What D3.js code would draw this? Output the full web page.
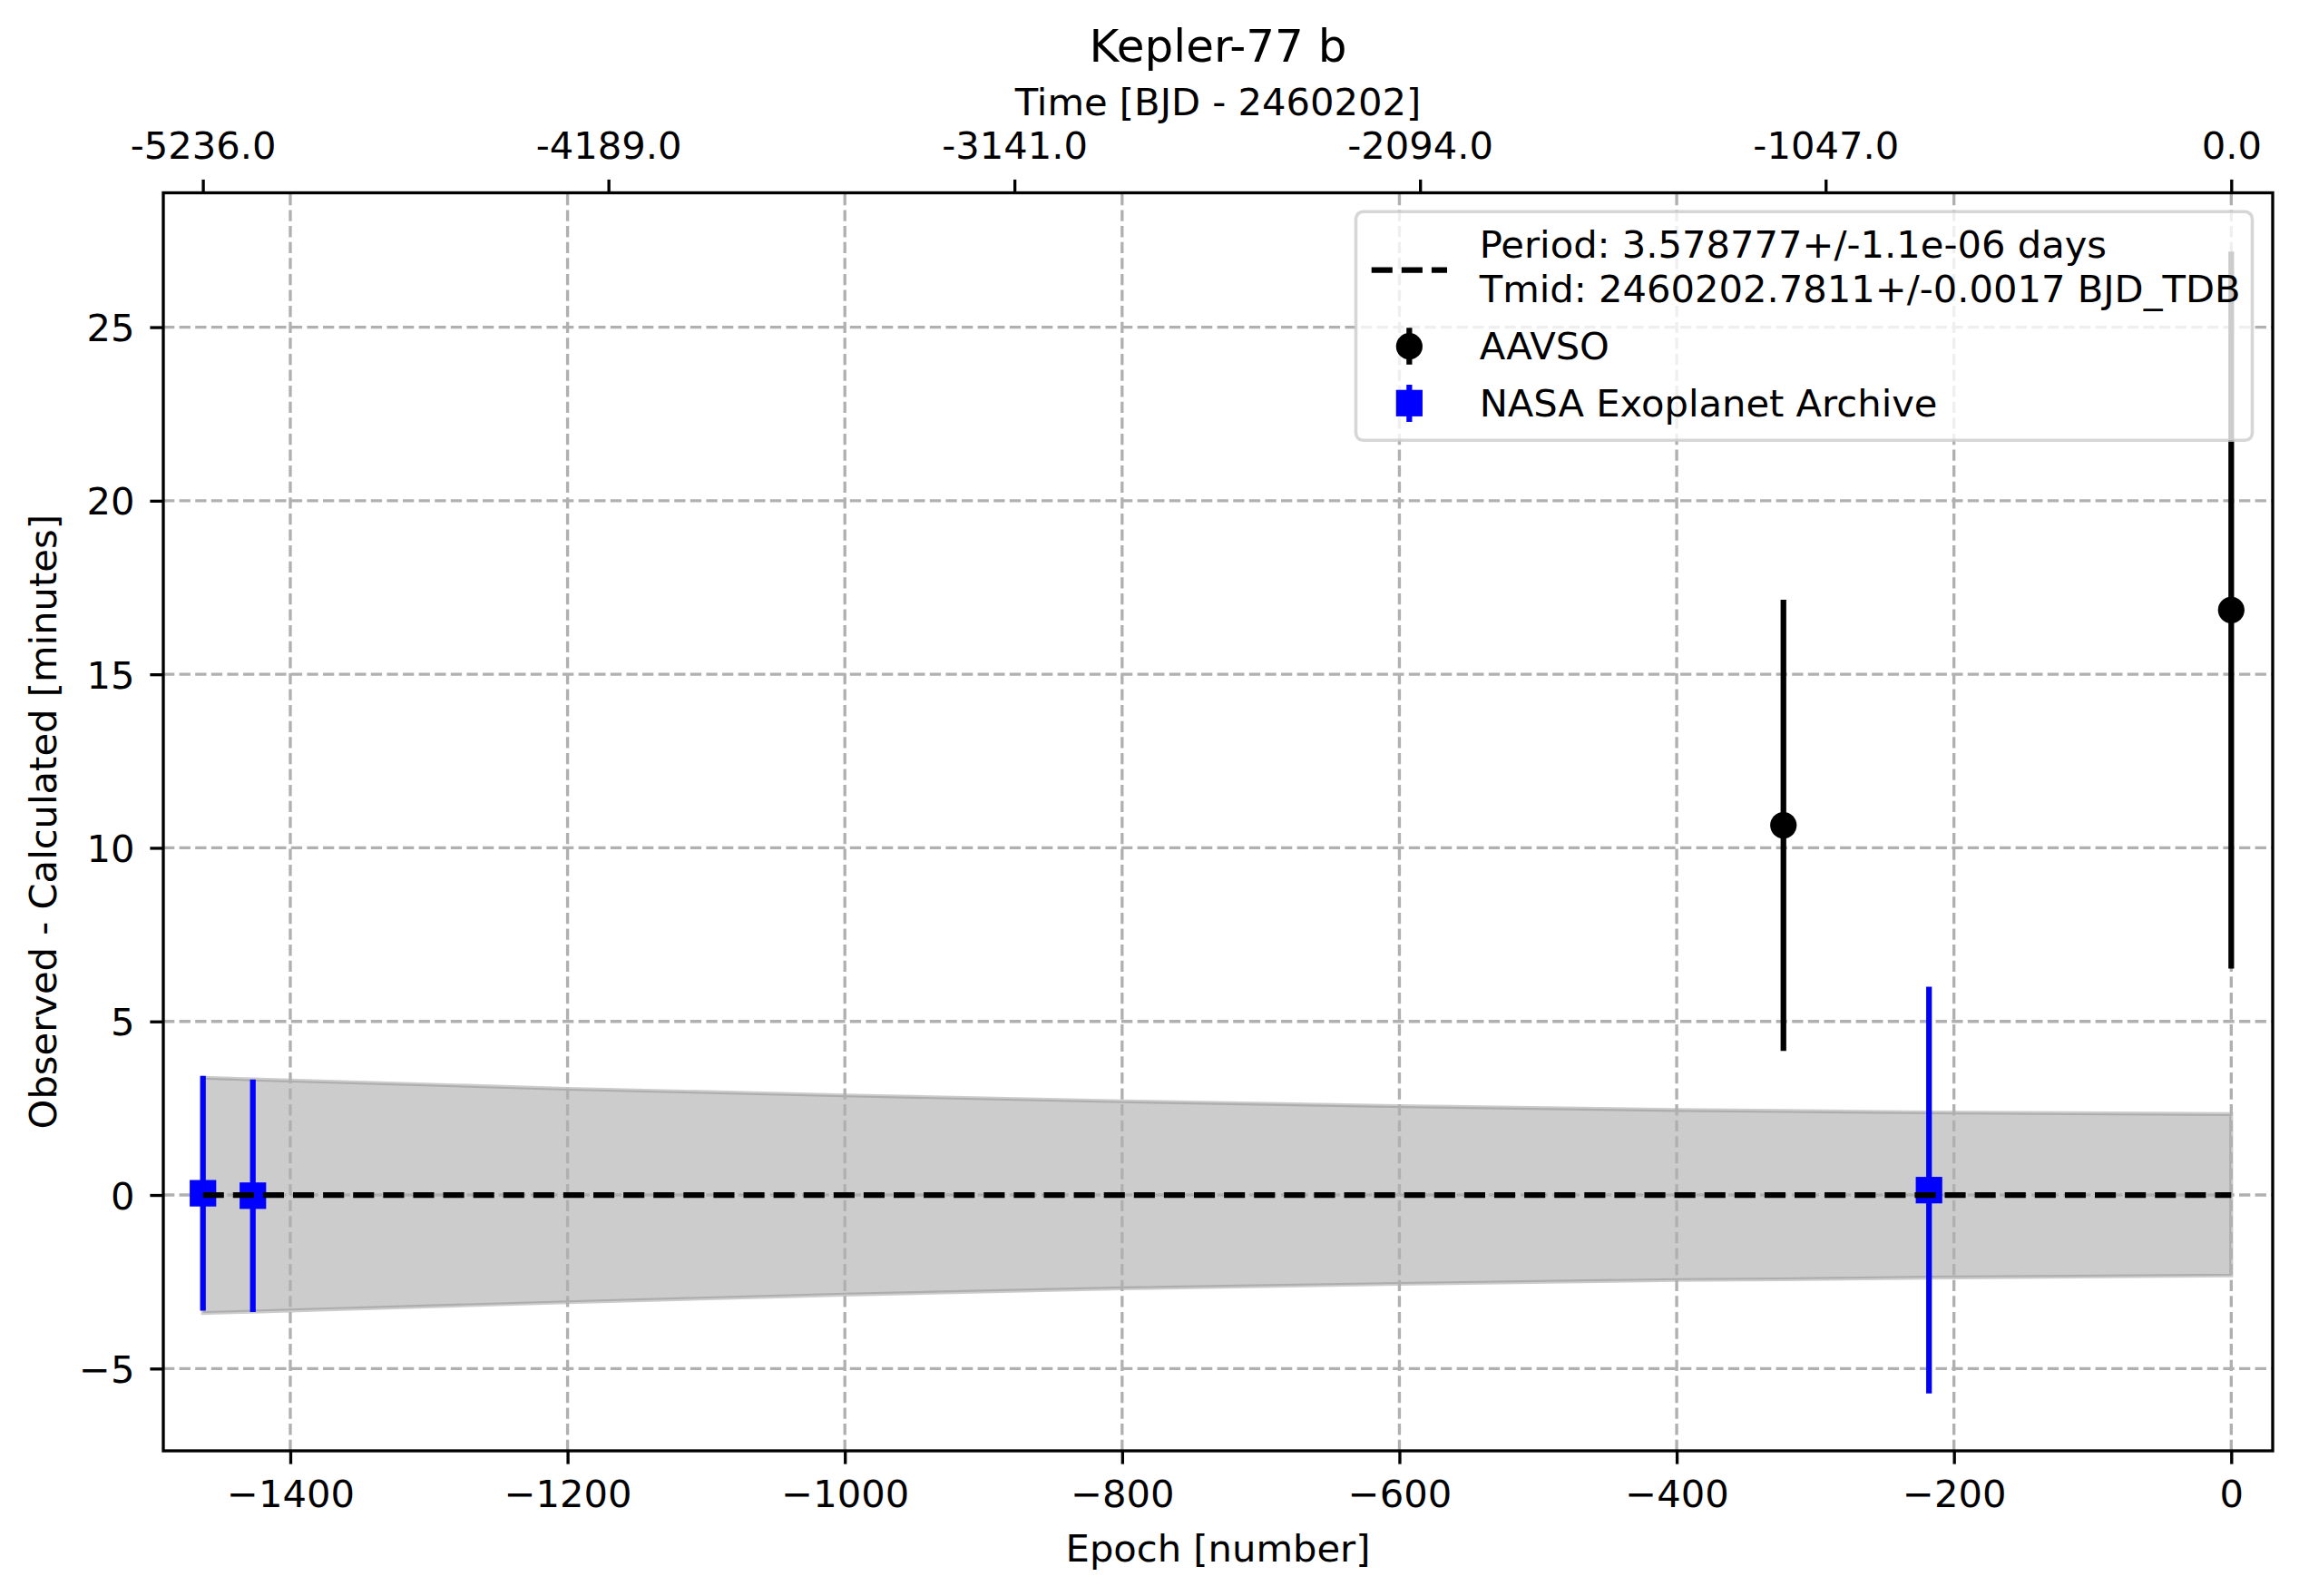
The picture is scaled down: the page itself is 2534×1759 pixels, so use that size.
<!DOCTYPE html>
<html>
<head>
<meta charset="utf-8">
<script src="https://cdn.jsdelivr.net/npm/d3@7"></script>
<style>
  body { margin: 0; background: #fff; }
  svg text { font-family: "DejaVu Sans", sans-serif; fill: #000; }
</style>
</head>
<body>
<div id="chart"></div>
<script>
// Transit data
const period = 3.578777;
const aavsoEpochs = [-323, 0];
const aavsoOC = [10.65, 16.85];
const aavsoErr = [6.5, 10.33];

const nasaEpochs = [-1463, -1427, -218];
const nasaOC = [0.05, -0.02, 0.14];
const nasaErr = [3.38, 3.35, 5.86];

// ephemeris uncertainty band
const bandEpochs = [-1463, -1427, -1200, -1000, -800, -600, -400, -323, -218, 0];
const bandUpper = [3.38, 3.33, 3.06, 2.87, 2.70, 2.56, 2.45, 2.42, 2.38, 2.33];
const bandLower = [-3.40, -3.36, -3.09, -2.87, -2.69, -2.56, -2.45, -2.43, -2.38, -2.32];

// tick values
const epochTicks = [-1400, -1200, -1000, -800, -600, -400, -200, 0];
const ocTicks = [-5, 0, 5, 10, 15, 20, 25];
const timeTicks = [-5236.0, -4189.0, -3141.0, -2094.0, -1047.0, 0.0];

const legendFit = ["Period: 3.578777+/-1.1e-06 days", "Tmid: 2460202.7811+/-0.0017 BJD_TDB"];

// Layout (300 dpi matplotlib figure)
const W = 2534, H = 1759;
const margin = {top: 212.5, right: 29, bottom: 160, left: 180};
const width = W - margin.left - margin.right;
const height = H - margin.top - margin.bottom;
const fs = 41.67;          // 10pt
const lw = 3.33;           // 0.8pt
const tick = 14.6;

const svg = d3.select("#chart").append("svg")
    .attr("width", W)
    .attr("height", H);

const g = svg.append("g")
    .attr("transform", `translate(${margin.left},${margin.top})`);

const x = d3.scaleLinear().domain([-1491.6, 29.9]).range([0, width]);
const y = d3.scaleLinear().domain([-7.37, 28.87]).range([height, 0]);

// Uncertainty band
const band = bandEpochs.map((e, i) => ({e: e, lo: bandLower[i], hi: bandUpper[i]}));
g.append("path")
    .datum(band)
    .attr("d", d3.area().x(d => x(d.e)).y0(d => y(d.lo)).y1(d => y(d.hi)))
    .attr("fill", "#808080")
    .attr("fill-opacity", 0.4)
    .attr("stroke", "#808080")
    .attr("stroke-opacity", 0.4)
    .attr("stroke-width", 4.17);

// Grid
const grid = g.append("g");
grid.selectAll(".vgrid")
    .data(epochTicks)
    .join("line")
    .attr("x1", d => x(d)).attr("x2", d => x(d))
    .attr("y1", height).attr("y2", 0);
grid.selectAll(".hgrid")
    .data(ocTicks)
    .join("line")
    .attr("x1", 0).attr("x2", width)
    .attr("y1", d => y(d)).attr("y2", d => y(d));
grid.selectAll("line")
    .attr("stroke", "#b0b0b0")
    .attr("stroke-width", lw)
    .attr("stroke-dasharray", "12.3 5.3");

// Error bars
function drawSeries(epochs, oc, err, color, shape) {
    const pts = epochs.map((e, i) => ({e: e, v: oc[i], s: err[i]}));
    const s = g.append("g");
    s.selectAll(".bar")
        .data(pts)
        .join("line")
        .attr("x1", d => x(d.e)).attr("x2", d => x(d.e))
        .attr("y1", d => y(d.v - d.s)).attr("y2", d => y(d.v + d.s))
        .attr("stroke", color)
        .attr("stroke-width", 6.25);
    if (shape === "circle") {
        s.selectAll(".mk")
            .data(pts)
            .join("circle")
            .attr("cx", d => x(d.e)).attr("cy", d => y(d.v))
            .attr("r", 14.6)
            .attr("fill", color);
    } else {
        s.selectAll(".mk")
            .data(pts)
            .join("rect")
            .attr("x", d => x(d.e) - 14.6).attr("y", d => y(d.v) - 14.6)
            .attr("width", 29.2).attr("height", 29.2)
            .attr("fill", color);
    }
}
drawSeries(aavsoEpochs, aavsoOC, aavsoErr, "#000000", "circle");
drawSeries(nasaEpochs, nasaOC, nasaErr, "#0000ff", "square");

// Zero line of the linear ephemeris
const ext = d3.extent(bandEpochs);
g.append("path")
    .datum([{e: ext[0], v: 0}, {e: ext[1], v: 0}])
    .attr("d", d3.line().x(d => x(d.e)).y(d => y(d.v)))
    .attr("stroke", "#000")
    .attr("stroke-width", 6.25)
    .attr("stroke-dasharray", "23.1 10");

// Axes
function styleAxis(sel) {
    sel.select(".domain").remove();
    sel.selectAll(".tick line").attr("stroke", "#000").attr("stroke-width", lw);
    sel.selectAll(".tick text")
        .attr("font-family", "DejaVu Sans")
        .attr("font-size", fs)
        .attr("fill", "#000");
}

g.append("g")
    .attr("transform", `translate(0,${height})`)
    .call(d3.axisBottom(x).tickValues(epochTicks).tickFormat(d3.format("d"))
        .tickSize(tick).tickSizeOuter(0).tickPadding(17.5))
    .call(styleAxis);

g.append("g")
    .call(d3.axisLeft(y).tickValues(ocTicks).tickFormat(d3.format("d"))
        .tickSize(tick).tickSizeOuter(0).tickPadding(17))
    .call(styleAxis)
    .selectAll(".tick text").attr("dy", "0.36em");

const topAxis = g.append("g")
    .call(d3.axisTop(x).tickValues(timeTicks.map(t => t / period))
        .tickFormat((d, i) => timeTicks[i].toFixed(1).replace("\u2212", "-"))
        .tickSize(tick).tickSizeOuter(0).tickPadding(23))
    .call(styleAxis);

// Spines
g.append("rect")
    .attr("width", width).attr("height", height)
    .attr("fill", "none")
    .attr("stroke", "#000")
    .attr("stroke-width", lw);

// Labels
svg.append("text")
    .attr("x", margin.left + width / 2).attr("y", 68.3)
    .attr("text-anchor", "middle")
    .attr("font-size", 50)
    .text("Kepler-77 b");

svg.append("text")
    .attr("x", margin.left + width / 2).attr("y", 126.7)
    .attr("text-anchor", "middle")
    .attr("font-size", fs)
    .text("Time [BJD - 2460202]");

svg.append("text")
    .attr("x", margin.left + width / 2).attr("y", 1720.7)
    .attr("text-anchor", "middle")
    .attr("font-size", fs)
    .text("Epoch [number]");

svg.append("text")
    .attr("transform", `translate(62,${margin.top + height / 2}) rotate(-90)`)
    .attr("text-anchor", "middle")
    .attr("font-size", fs)
    .text("Observed - Calculated [minutes]");

// Legend
const leg = svg.append("g").attr("transform", "translate(1494.5,233.3)");
leg.append("rect")
    .attr("width", 988).attr("height", 252)
    .attr("rx", 8).attr("ry", 8)
    .attr("fill", "#fff").attr("fill-opacity", 0.8)
    .attr("stroke", "#cccccc").attr("stroke-opacity", 0.8)
    .attr("stroke-width", 3.6);

const hx0 = 17.2, hx1 = 100.5, hxm = (hx0 + hx1) / 2, tx = 136.2;

leg.append("line")
    .attr("x1", hx0).attr("x2", hx1)
    .attr("y1", 64.4).attr("y2", 64.4)
    .attr("stroke", "#000").attr("stroke-width", 6.25)
    .attr("stroke-dasharray", "23.1 10");
leg.selectAll(".fit")
    .data(legendFit)
    .join("text")
    .attr("x", tx).attr("y", (d, i) => 51 + i * 49)
    .attr("font-size", fs)
    .text(d => d);

// AAVSO handle
leg.append("line")
    .attr("x1", hxm).attr("x2", hxm).attr("y1", 128).attr("y2", 168.5)
    .attr("stroke", "#000").attr("stroke-width", 6.25);
leg.append("circle")
    .attr("cx", hxm).attr("cy", 148.4).attr("r", 14.6).attr("fill", "#000");
leg.append("text")
    .attr("x", tx).attr("y", 162.7).attr("font-size", fs).text("AAVSO");

// NASA handle
leg.append("line")
    .attr("x1", hxm).attr("x2", hxm).attr("y1", 190.7).attr("y2", 231.7)
    .attr("stroke", "#0000ff").attr("stroke-width", 6.25);
leg.append("rect")
    .attr("x", hxm - 14.6).attr("y", 211 - 14.6)
    .attr("width", 29.2).attr("height", 29.2).attr("fill", "#0000ff");
leg.append("text")
    .attr("x", tx).attr("y", 226).attr("font-size", fs).text("NASA Exoplanet Archive");
</script>
</body>
</html>
